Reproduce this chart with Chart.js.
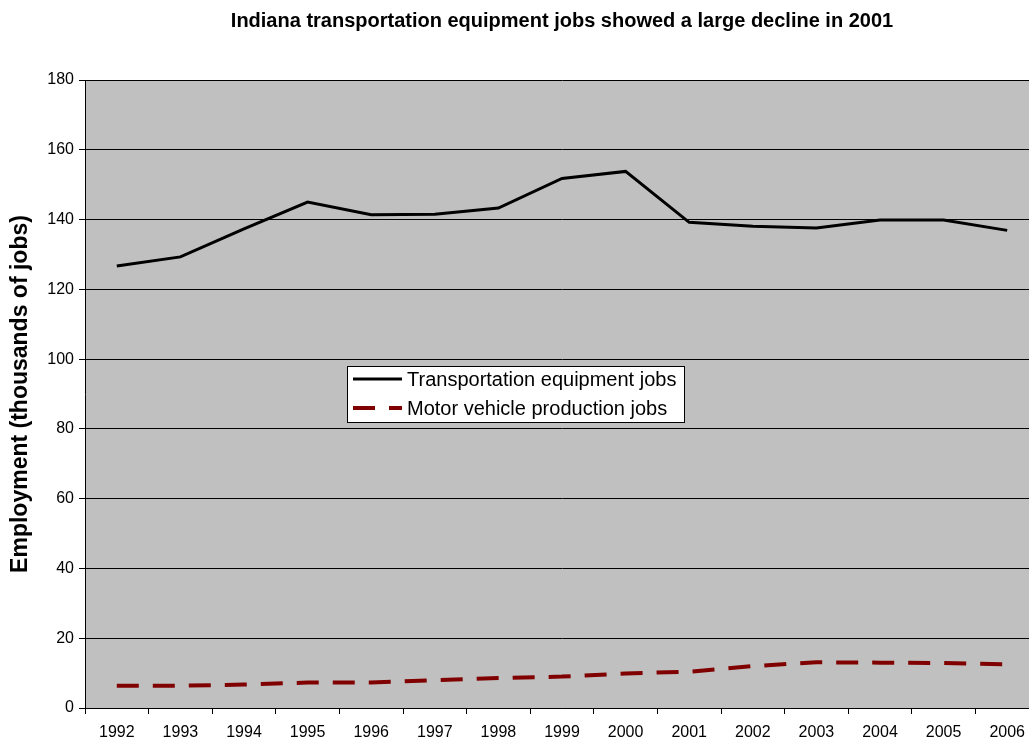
<!DOCTYPE html>
<html>
<head>
<meta charset="utf-8">
<title>Indiana transportation equipment jobs</title>
<script src="https://cdn.jsdelivr.net/npm/chart.js@4"></script>
<style>
  html, body { margin: 0; padding: 0; background: #fff; overflow: hidden; }
  #wrap { width: 1045px; height: 740px; }
</style>
</head>
<body>
<div id="wrap"><canvas id="jobsChart" width="1045" height="740"></canvas></div>
<script>
// Data
const years = ['1992', '1993', '1994', '1995', '1996', '1997', '1998', '1999',
               '2000', '2001', '2002', '2003', '2004', '2005', '2006'];
const transportJobs = [126.7, 129.3, 137.3, 145.0, 141.4, 141.5, 143.3, 151.8,
                       153.8, 139.2, 138.1, 137.6, 139.9, 139.9, 136.9];
const motorVehicleJobs = [6.4, 6.4, 6.7, 7.3, 7.3, 8.0, 8.6, 9.0,
                          9.9, 10.4, 12.0, 13.1, 13.0, 12.9, 12.5];
const yTicks = [0, 20, 40, 60, 80, 100, 120, 140, 160, 180];

const chartTitle = 'Indiana transportation equipment jobs showed a large decline in 2001';
const FONT = "'Liberation Sans', Arial, sans-serif";

// grey plot background
const plotBg = {
    id: 'plotBg',
    beforeDraw(chart) {
        const { ctx, chartArea: a } = chart;
        ctx.save();
        ctx.fillStyle = '#c0c0c0';
        ctx.fillRect(a.left, a.top, a.right - a.left, a.bottom - a.top);
        ctx.restore();
    }
};

// title centred over the plot area
const topTitle = {
    id: 'topTitle',
    afterDraw(chart) {
        const { ctx, chartArea: a } = chart;
        ctx.save();
        ctx.font = 'bold 20px ' + FONT;
        ctx.fillStyle = '#000';
        ctx.textAlign = 'center';
        ctx.textBaseline = 'middle';
        ctx.fillText(chartTitle, (a.left + a.right) / 2, 21);
        ctx.restore();
    }
};

// boxed legend sitting inside the plot
const boxLegend = {
    id: 'boxLegend',
    afterDraw(chart) {
        const { ctx, chartArea: a } = chart;
        const x = a.left + 262, y = a.top + 286, w = 337, h = 56;
        ctx.save();
        ctx.fillStyle = '#fff';
        ctx.fillRect(x, y, w, h);
        ctx.strokeStyle = '#000';
        ctx.lineWidth = 1;
        ctx.strokeRect(x + 0.5, y + 0.5, w, h);
        chart.data.datasets.forEach((ds, i) => {
            const ly = y + 13 + i * 29;
            ctx.beginPath();
            ctx.strokeStyle = ds.borderColor;
            ctx.lineWidth = ds.borderWidth;
            ctx.setLineDash(ds.borderDash || []);
            ctx.moveTo(x + 6, ly);
            ctx.lineTo(x + 55, ly);
            ctx.stroke();
            ctx.setLineDash([]);
            ctx.fillStyle = '#000';
            ctx.font = '20px ' + FONT;
            ctx.textBaseline = 'middle';
            ctx.fillText(ds.label, x + 60, ly + 1);
        });
        ctx.restore();
    }
};

new Chart(document.getElementById('jobsChart'), {
    type: 'line',
    data: {
        labels: years,
        datasets: [{
            label: 'Transportation equipment jobs',
            data: transportJobs,
            borderColor: '#000000',
            borderWidth: 3,
            pointRadius: 0,
            tension: 0
        }, {
            label: 'Motor vehicle production jobs',
            data: motorVehicleJobs,
            borderColor: '#800000',
            borderWidth: 4,
            borderDash: [22, 14],
            pointRadius: 0,
            tension: 0
        }]
    },
    options: {
        responsive: false,
        animation: false,
        layout: { padding: { top: 80, right: 6, left: 0, bottom: 0 } },
        plugins: {
            legend: { display: false },
            title: { display: false },
            tooltip: { enabled: false }
        },
        scales: {
            x: {
                offset: true,
                grid: {
                    offset: true,
                    drawOnChartArea: false,
                    color: '#000',
                    tickLength: 6
                },
                border: { color: '#000', width: 1 },
                ticks: {
                    color: '#000',
                    font: { family: FONT, size: 16 },
                    padding: 9,
                    maxRotation: 0,
                    autoSkip: false
                },
                afterFit(scale) { scale.height = 32; }
            },
            y: {
                min: 0,
                max: 180,
                afterBuildTicks(scale) { scale.ticks = yTicks.map(v => ({ value: v })); },
                grid: { color: '#000', tickLength: 6, lineWidth: 1 },
                border: { color: '#000', width: 1 },
                ticks: {
                    color: '#000',
                    font: { family: FONT, size: 16 },
                    padding: 5
                },
                title: {
                    display: true,
                    text: 'Employment (thousands of jobs)',
                    color: '#000',
                    font: { family: FONT, size: 23, weight: 'bold' },
                    padding: { top: 7, bottom: 0 }
                },
                afterFit(scale) { scale.width = 85; }
            }
        }
    },
    plugins: [plotBg, topTitle, boxLegend]
});
</script>
</body>
</html>
